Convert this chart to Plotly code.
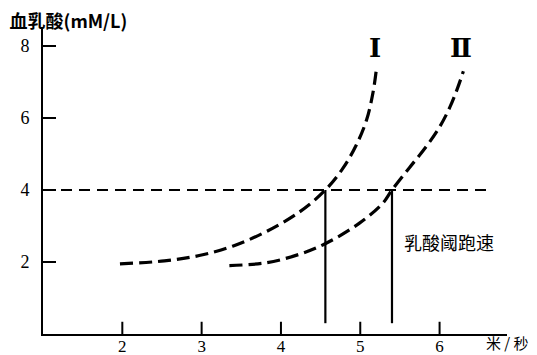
import plotly.graph_objects as go

# Curve I and curve II: running speed (m/s) vs blood lactate (mM/L)
speed_I = [1.97, 2.53, 2.97, 3.39, 3.82, 4.24, 4.56, 4.78, 4.95, 5.08, 5.16, 5.20]
lactate_I = [1.95, 2.03, 2.18, 2.44, 2.85, 3.40, 4.00, 4.60, 5.25, 5.95, 6.70, 7.30]
speed_II = [3.35, 3.82, 4.24, 4.57, 4.99, 5.28, 5.40, 5.62, 5.83, 6.00, 6.13, 6.23, 6.30]
lactate_II = [1.90, 1.98, 2.22, 2.52, 3.08, 3.62, 4.00, 4.62, 5.20, 5.75, 6.30, 6.85, 7.30]

threshold_lactate = 4
threshold_line_x = [1, 6.59]
threshold_speeds = [4.56, 5.40]
vertical_bottom = 0.3

x_ticks = [2, 3, 4, 5, 6]
y_ticks = [2, 4, 6, 8]
curve_labels = ["Ⅰ", "Ⅱ"]
curve_label_x = [5.19, 6.27]
curve_label_y = 7.95

X_RANGE = [1, 6.85]
Y_RANGE = [0, 8.5]

fig = go.Figure()

for sx, sy in [(speed_I, lactate_I), (speed_II, lactate_II)]:
    fig.add_trace(go.Scatter(x=sx, y=sy, mode="lines", line_shape="spline",
                             line=dict(color="black", width=3.2, dash="13px,6px", smoothing=1.0),
                             showlegend=False, hoverinfo="skip"))
fig.add_trace(go.Scatter(x=threshold_line_x, y=[threshold_lactate] * 2, mode="lines",
                         line=dict(color="black", width=2.2, dash="11px,7px"),
                         showlegend=False, hoverinfo="skip"))
for sx in threshold_speeds:
    fig.add_trace(go.Scatter(x=[sx, sx], y=[threshold_lactate, vertical_bottom], mode="lines",
                             line=dict(color="black", width=2.2),
                             showlegend=False, hoverinfo="skip"))

# inward tick marks at the tick values
for t in y_ticks:
    fig.add_shape(type="line", xref="x domain", yref="y", x0=0, x1=0.028, y0=t, y1=t,
                  line=dict(color="black", width=2))
for t in x_ticks:
    fig.add_shape(type="line", xref="x", yref="y domain", x0=t, x1=t, y0=0, y1=0.04,
                  line=dict(color="black", width=2))

for lab, lx in zip(curve_labels, curve_label_x):
    fig.add_annotation(x=lx, y=curve_label_y, text="<b>" + lab + "</b>", showarrow=False,
                       font=dict(family="DejaVu Serif", size=26, color="black"))

fig.add_annotation(x=5.53, y=2.55, text="乳酸阈跑速", showarrow=False, xanchor="left",
                   font=dict(family="Noto Sans CJK SC", size=18, color="black"))
fig.add_annotation(x=6.56, y=0, text="米 / 秒", showarrow=False,
                   xanchor="left", yanchor="top", yshift=4,
                   font=dict(family="Noto Sans CJK SC", size=15, color="black"))

# page body adds an 8px offset, so the figure is 8px smaller than the window
fig.update_layout(
    width=529, height=347,
    margin=dict(l=35, r=30, t=20, b=21, autoexpand=False),
    paper_bgcolor="white", plot_bgcolor="white",
    title=dict(text="<b>血乳酸(mM/L)</b>", x=0.003, xanchor="left", xref="container",
               y=1 - 14 / 347, yanchor="middle", yref="container",
               font=dict(family="Noto Sans CJK SC", size=18, color="black")),
    xaxis=dict(range=X_RANGE, tickvals=x_ticks, ticks="", showline=True,
               linecolor="black", linewidth=2, showgrid=False, zeroline=False,
               automargin=False, ticklabelstandoff=-4,
               tickfont=dict(family="Liberation Serif", size=17, color="black")),
    yaxis=dict(range=Y_RANGE, tickvals=y_ticks, ticks="", showline=True,
               linecolor="black", linewidth=2, showgrid=False, zeroline=False,
               ticklabelstandoff=8, automargin=False,
               tickfont=dict(family="Liberation Serif", size=18, color="black")),
)

fig.write_html("out.html")
